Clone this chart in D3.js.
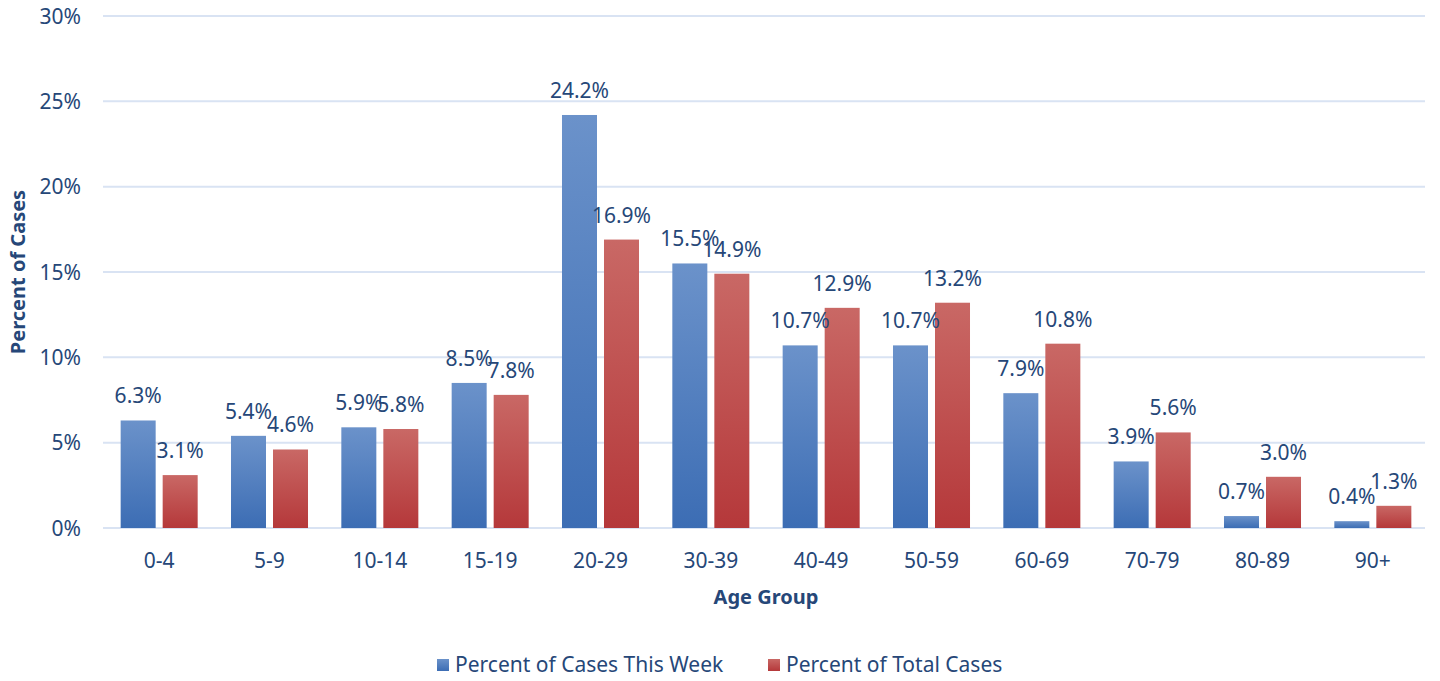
<!DOCTYPE html>
<html>
<head>
<meta charset="utf-8">
<script src="https://cdn.jsdelivr.net/npm/d3@7"></script>
<style>
body{margin:0;background:#fff;}
text{font-family:"Noto Sans",sans-serif;fill:#264778;}
</style>
</head>
<body>
<svg id="chart" width="1440" height="681"></svg>
<script>
var ageGroups=["0-4","5-9","10-14","15-19","20-29","30-39","40-49","50-59","60-69","70-79","80-89","90+"]
var weekValues=[6.3,5.4,5.9,8.5,24.2,15.5,10.7,10.7,7.9,3.9,0.7,0.4]
var totalValues=[3.1,4.6,5.8,7.8,16.9,14.9,12.9,13.2,10.8,5.6,3.0,1.3]
var seriesNames=["Percent of Cases This Week","Percent of Total Cases"]
var yTicks=[0,5,10,15,20,25,30]

var svg=d3.select("#chart")

// gradients for bars
var defs=svg.append("defs")
var grads=[["gBlue","#6b92ca","#3c6db4"],["gRed","#c96865","#b5383a"]]
grads.forEach(g=>{
	let lg=defs.append("linearGradient").attr("id",g[0])
	.attr("x1",0).attr("y1",0).attr("x2",0).attr("y2",1)
	lg.append("stop").attr("offset","0%").attr("stop-color",g[1])
	lg.append("stop").attr("offset","100%").attr("stop-color",g[2])
})

var xScale=d3.scaleBand()
.domain(ageGroups)
.range([104,1428])
.paddingInner(0.302)
.paddingOuter(0.151)

var subScale=d3.scaleBand()
.domain([0,1])
.range([0,xScale.bandwidth()])
.paddingInner(0.1667)

var yScale=d3.scaleLinear()
.domain([0,30])
.range([528,16])

// gridlines
svg.append("g")
.selectAll("line")
.data(yTicks)
.enter()
.append("line")
.attr("x1",103)
.attr("x2",1425)
.attr("y1",d=>yScale(d))
.attr("y2",d=>yScale(d))
.attr("stroke","#d9e3f3")
.attr("stroke-width",2)

// y tick labels
svg.append("g")
.selectAll("text")
.data(yTicks)
.enter()
.append("text")
.attr("x",81)
.attr("y",d=>yScale(d)+7.5)
.attr("text-anchor","end")
.attr("font-size","21px")
.text(d=>d+"%")

var rows=ageGroups.map((g,i)=>({group:g,values:[weekValues[i],totalValues[i]]}))

var groups=svg.append("g")
.selectAll(".grp")
.data(rows)
.enter()
.append("g")
.classed("grp",true)
.attr("transform",d=>`translate(${xScale(d.group)},0)`)

groups.selectAll("rect")
.data(d=>d.values.map((v,k)=>({k:k,v:v})))
.enter()
.append("rect")
.attr("x",d=>subScale(d.k))
.attr("y",d=>yScale(d.v))
.attr("width",subScale.bandwidth())
.attr("height",d=>yScale(0)-yScale(d.v))
.attr("fill",d=>d.k===0?"url(#gBlue)":"url(#gRed)")

groups.selectAll(".lbl")
.data(d=>d.values.map((v,k)=>({k:k,v:v})))
.enter()
.append("text")
.classed("lbl",true)
.attr("x",d=>subScale(d.k)+subScale.bandwidth()/2)
.attr("y",d=>yScale(d.v)-17)
.attr("text-anchor","middle")
.attr("font-size","21px")
.text(d=>d.v.toFixed(1)+"%")

// x tick labels
svg.append("g")
.selectAll("text")
.data(ageGroups)
.enter()
.append("text")
.attr("x",d=>xScale(d)+xScale.bandwidth()/2)
.attr("y",567.5)
.attr("text-anchor","middle")
.attr("font-size","21px")
.text(d=>d)

// axis titles
svg.append("text")
.attr("x",766)
.attr("y",604)
.attr("text-anchor","middle")
.attr("font-size","20px")
.attr("font-weight","bold")
.text("Age Group")

svg.append("text")
.attr("transform","translate(25,272) rotate(-90)")
.attr("text-anchor","middle")
.attr("font-size","20px")
.attr("font-weight","bold")
.text("Percent of Cases")

// legend
var legendX=[437,768]
var legend=svg.append("g")
.selectAll("g")
.data(seriesNames)
.enter()
.append("g")
.attr("transform",(d,i)=>`translate(${legendX[i]},659)`)

legend.append("rect")
.attr("width",12)
.attr("height",12)
.attr("fill",(d,i)=>i===0?"url(#gBlue)":"url(#gRed)")

legend.append("text")
.attr("x",18)
.attr("y",13)
.attr("font-size","21px")
.text(d=>d)
</script>
</body>
</html>
